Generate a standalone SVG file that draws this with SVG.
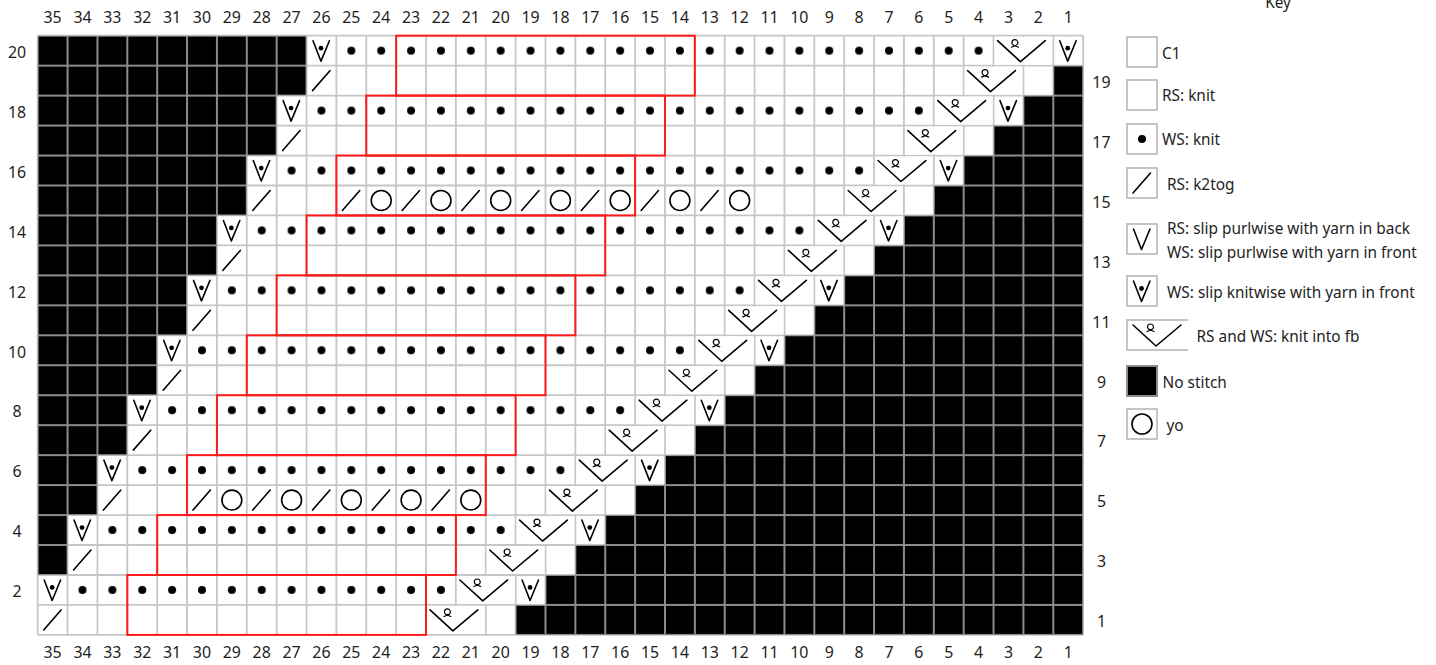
<svg xmlns="http://www.w3.org/2000/svg" width="1436" height="665" viewBox="0 0 1436 665">
<style>
text{font-family:"Noto Sans","Open Sans","Liberation Sans",sans-serif;font-size:16px;fill:#1e1e1e}
#key text{font-size:15.4px}
.mid{text-anchor:middle}
.ln{fill:none;stroke:#000;stroke-width:1.6;stroke-linecap:round;stroke-linejoin:round}
.box{fill:#fff;stroke:#c4c4c4;stroke-width:2}
.red{fill:none;stroke:#ff1a1a;stroke-width:2}
.dots{fill:url(#dp)}
.ns{fill:url(#bp)}
</style>
<defs>
<pattern id="dp" patternUnits="userSpaceOnUse" width="30" height="30"><circle cx="15" cy="15" r="4" fill="#000"/></pattern>
<pattern id="bp" patternUnits="userSpaceOnUse" width="30" height="30"><rect width="30" height="30" fill="#8c8c8c"/><rect x="1" y="1" width="28" height="28" fill="#000"/></pattern>
<g id="dot"><circle cx="15" cy="15" r="4" fill="#000"/></g>
<g id="k2"><line class="ln" x1="6" y1="25" x2="23.5" y2="5"/></g>
<g id="sk"><polyline class="ln" points="6.5,5 14.5,25.5 23,5"/><circle cx="14.5" cy="12.5" r="2.4" fill="#000"/></g>
<g id="sp"><polyline class="ln" points="6.5,5 14.5,25.5 23,5"/></g>
<g id="yo"><circle class="ln" cx="15" cy="15" r="10"/></g>
<g id="kf"><rect x="1" y="1" width="58" height="28" fill="#fff"/><polyline class="ln" points="4,5 27,26 52,5"/><path class="ln" style="stroke-width:1.2" d="M18,11.5 C20,10.5 24.5,10 24.5,7 A3,3 0 1 0 18.5,7 C18.5,10 23,10.5 25,11.5"/></g>
</defs>

<g id="chart" transform="translate(37.7,35.7) scale(0.99567,0.99867)">
<rect width="1050" height="600" fill="#fff"/>
<path id="grid" fill="none" stroke="#c6c6c6" stroke-width="1.8" d="M0 0V600M30 0V600M60 0V600M90 0V600M120 0V600M150 0V600M180 0V600M210 0V600M240 0V600M270 0V600M300 0V600M330 0V600M360 0V600M390 0V600M420 0V600M450 0V600M480 0V600M510 0V600M540 0V600M570 0V600M600 0V600M630 0V600M660 0V600M690 0V600M720 0V600M750 0V600M780 0V600M810 0V600M840 0V600M870 0V600M900 0V600M930 0V600M960 0V600M990 0V600M1020 0V600M1050 0V600M0 0H1050M0 30H1050M0 60H1050M0 90H1050M0 120H1050M0 150H1050M0 180H1050M0 210H1050M0 240H1050M0 270H1050M0 300H1050M0 330H1050M0 360H1050M0 390H1050M0 420H1050M0 450H1050M0 480H1050M0 510H1050M0 540H1050M0 570H1050M0 600H1050"/>

<g id="no-stitch">
<path class="ns" d="M0 0H270V60H240V120H210V180H180V240H150V300H120V360H90V420H60V480H30V540H0Z"/>
<path class="ns" d="M1050 30H1020V60H990V90H960V120H930V150H900V180H870V210H840V240H810V270H780V300H750V330H720V360H690V390H660V420H630V450H600V480H570V510H540V540H510V570H480V600H1050Z"/>
</g>

<g id="ws-knit">
<rect class="dots" x="30" y="540" width="390" height="30"/>
<rect class="dots" x="60" y="480" width="420" height="30"/>
<rect class="dots" x="90" y="420" width="450" height="30"/>
<rect class="dots" x="120" y="360" width="480" height="30"/>
<rect class="dots" x="150" y="300" width="510" height="30"/>
<rect class="dots" x="180" y="240" width="540" height="30"/>
<rect class="dots" x="210" y="180" width="570" height="30"/>
<rect class="dots" x="240" y="120" width="600" height="30"/>
<rect class="dots" x="270" y="60" width="630" height="30"/>
<rect class="dots" x="300" y="0" width="660" height="30"/>
</g>

<g id="k2tog">
<use href="#k2" x="0" y="570"/><use href="#k2" x="30" y="510"/><use href="#k2" x="60" y="450"/><use href="#k2" x="90" y="390"/><use href="#k2" x="120" y="330"/><use href="#k2" x="150" y="270"/><use href="#k2" x="180" y="210"/><use href="#k2" x="210" y="150"/><use href="#k2" x="240" y="90"/><use href="#k2" x="270" y="30"/>
<use href="#k2" x="150" y="450"/><use href="#k2" x="210" y="450"/><use href="#k2" x="270" y="450"/><use href="#k2" x="330" y="450"/><use href="#k2" x="390" y="450"/>
<use href="#k2" x="300" y="150"/><use href="#k2" x="360" y="150"/><use href="#k2" x="420" y="150"/><use href="#k2" x="480" y="150"/><use href="#k2" x="540" y="150"/><use href="#k2" x="600" y="150"/><use href="#k2" x="660" y="150"/>
</g>

<g id="yarn-over">
<use href="#yo" x="180" y="450"/><use href="#yo" x="240" y="450"/><use href="#yo" x="300" y="450"/><use href="#yo" x="360" y="450"/><use href="#yo" x="420" y="450"/>
<use href="#yo" x="330" y="150"/><use href="#yo" x="390" y="150"/><use href="#yo" x="450" y="150"/><use href="#yo" x="510" y="150"/><use href="#yo" x="570" y="150"/><use href="#yo" x="630" y="150"/><use href="#yo" x="690" y="150"/>
</g>

<g id="slip-knitwise">
<use href="#sk" x="0" y="540"/><use href="#sk" x="30" y="480"/><use href="#sk" x="60" y="420"/><use href="#sk" x="90" y="360"/><use href="#sk" x="120" y="300"/><use href="#sk" x="150" y="240"/><use href="#sk" x="180" y="180"/><use href="#sk" x="210" y="120"/><use href="#sk" x="240" y="60"/><use href="#sk" x="270" y="0"/>
<use href="#sk" x="480" y="540"/><use href="#sk" x="540" y="480"/><use href="#sk" x="600" y="420"/><use href="#sk" x="660" y="360"/><use href="#sk" x="720" y="300"/><use href="#sk" x="780" y="240"/><use href="#sk" x="840" y="180"/><use href="#sk" x="900" y="120"/><use href="#sk" x="960" y="60"/><use href="#sk" x="1020" y="0"/>
</g>

<g id="kfb">
<use href="#kf" x="390" y="570"/><use href="#kf" x="450" y="510"/><use href="#kf" x="510" y="450"/><use href="#kf" x="570" y="390"/><use href="#kf" x="630" y="330"/><use href="#kf" x="690" y="270"/><use href="#kf" x="750" y="210"/><use href="#kf" x="810" y="150"/><use href="#kf" x="870" y="90"/><use href="#kf" x="930" y="30"/>
<use href="#kf" x="420" y="540"/><use href="#kf" x="480" y="480"/><use href="#kf" x="540" y="420"/><use href="#kf" x="600" y="360"/><use href="#kf" x="660" y="300"/><use href="#kf" x="720" y="240"/><use href="#kf" x="780" y="180"/><use href="#kf" x="840" y="120"/><use href="#kf" x="900" y="60"/><use href="#kf" x="960" y="0"/>
</g>

<g id="repeat-outlines">
<rect class="red" x="90" y="540" width="300" height="60"/>
<rect class="red" x="120" y="480" width="300" height="60"/>
<rect class="red" x="150" y="420" width="300" height="60"/>
<rect class="red" x="180" y="360" width="300" height="60"/>
<rect class="red" x="210" y="300" width="300" height="60"/>
<rect class="red" x="240" y="240" width="300" height="60"/>
<rect class="red" x="270" y="180" width="300" height="60"/>
<rect class="red" x="300" y="120" width="300" height="60"/>
<rect class="red" x="330" y="60" width="300" height="60"/>
<rect class="red" x="360" y="0" width="300" height="60"/>
</g>

<g id="col-labels-top" class="mid">
<text x="15" y="-12.7">35</text><text x="45" y="-12.7">34</text><text x="75" y="-12.7">33</text><text x="105" y="-12.7">32</text><text x="135" y="-12.7">31</text><text x="165" y="-12.7">30</text><text x="195" y="-12.7">29</text><text x="225" y="-12.7">28</text><text x="255" y="-12.7">27</text><text x="285" y="-12.7">26</text><text x="315" y="-12.7">25</text><text x="345" y="-12.7">24</text><text x="375" y="-12.7">23</text><text x="405" y="-12.7">22</text><text x="435" y="-12.7">21</text><text x="465" y="-12.7">20</text><text x="495" y="-12.7">19</text><text x="525" y="-12.7">18</text><text x="555" y="-12.7">17</text><text x="585" y="-12.7">16</text><text x="615" y="-12.7">15</text><text x="645" y="-12.7">14</text><text x="675" y="-12.7">13</text><text x="705" y="-12.7">12</text><text x="735" y="-12.7">11</text><text x="765" y="-12.7">10</text><text x="795" y="-12.7">9</text><text x="825" y="-12.7">8</text><text x="855" y="-12.7">7</text><text x="885" y="-12.7">6</text><text x="915" y="-12.7">5</text><text x="945" y="-12.7">4</text><text x="975" y="-12.7">3</text><text x="1005" y="-12.7">2</text><text x="1035" y="-12.7">1</text>
</g>
<g id="col-labels-bottom" class="mid">
<text x="15" y="623">35</text><text x="45" y="623">34</text><text x="75" y="623">33</text><text x="105" y="623">32</text><text x="135" y="623">31</text><text x="165" y="623">30</text><text x="195" y="623">29</text><text x="225" y="623">28</text><text x="255" y="623">27</text><text x="285" y="623">26</text><text x="315" y="623">25</text><text x="345" y="623">24</text><text x="375" y="623">23</text><text x="405" y="623">22</text><text x="435" y="623">21</text><text x="465" y="623">20</text><text x="495" y="623">19</text><text x="525" y="623">18</text><text x="555" y="623">17</text><text x="585" y="623">16</text><text x="615" y="623">15</text><text x="645" y="623">14</text><text x="675" y="623">13</text><text x="705" y="623">12</text><text x="735" y="623">11</text><text x="765" y="623">10</text><text x="795" y="623">9</text><text x="825" y="623">8</text><text x="855" y="623">7</text><text x="885" y="623">6</text><text x="915" y="623">5</text><text x="945" y="623">4</text><text x="975" y="623">3</text><text x="1005" y="623">2</text><text x="1035" y="623">1</text>
</g>
<g id="row-labels-left" class="mid">
<text x="-20.8" y="22.3">20</text><text x="-20.8" y="82.3">18</text><text x="-20.8" y="142.3">16</text><text x="-20.8" y="202.3">14</text><text x="-20.8" y="262.3">12</text><text x="-20.8" y="322.3">10</text><text x="-20.8" y="382.3">8</text><text x="-20.8" y="442.3">6</text><text x="-20.8" y="502.3">4</text><text x="-20.8" y="562.3">2</text>
</g>
<g id="row-labels-right" class="mid">
<text x="1068.4" y="52.3">19</text><text x="1068.4" y="112.3">17</text><text x="1068.4" y="172.3">15</text><text x="1068.4" y="232.3">13</text><text x="1068.4" y="292.3">11</text><text x="1068.4" y="352.3">9</text><text x="1068.4" y="412.3">7</text><text x="1068.4" y="472.3">5</text><text x="1068.4" y="532.3">3</text><text x="1068.4" y="592.3">1</text>
</g>
</g>

<g id="key">
<text class="mid" x="1278" y="8">Key</text>
<g id="key-c1"><rect class="box" x="1127" y="37" width="30" height="30"/><text x="1162" y="58.5">C1</text></g>
<g id="key-rs-knit"><rect class="box" x="1127" y="80" width="30" height="30"/><text x="1162" y="101">RS: knit</text></g>
<g id="key-ws-knit"><rect class="box" x="1127" y="124" width="30" height="30"/><use href="#dot" x="1127" y="124"/><text x="1162" y="145">WS: knit</text></g>
<g id="key-k2tog"><rect class="box" x="1127" y="168" width="30" height="30"/><use href="#k2" x="1127" y="168"/><text x="1167" y="190">RS: k2tog</text></g>
<g id="key-slip-purl"><rect class="box" x="1127" y="224" width="30" height="30"/><use href="#sp" x="1127" y="224"/><text x="1167" y="233.5">RS: slip purlwise with yarn in back</text><text x="1167" y="257.7">WS: slip purlwise with yarn in front</text></g>
<g id="key-slip-knit"><rect class="box" x="1127" y="276" width="30" height="30"/><use href="#sk" x="1127" y="276"/><text x="1167" y="298.4">WS: slip knitwise with yarn in front</text></g>
<g id="key-kfb"><rect class="box" x="1127" y="320" width="60" height="30"/><use href="#kf" x="1129" y="320"/><text x="1196.5" y="342.4">RS and WS: knit into fb</text></g>
<g id="key-no-stitch"><rect x="1127" y="366" width="30" height="30" fill="#000" stroke="#8c8c8c" stroke-width="2"/><text x="1162.5" y="388.4">No stitch</text></g>
<g id="key-yo"><rect class="box" x="1127" y="409" width="30" height="30"/><use href="#yo" x="1127" y="409"/><text x="1166.5" y="431">yo</text></g>
</g>
</svg>
